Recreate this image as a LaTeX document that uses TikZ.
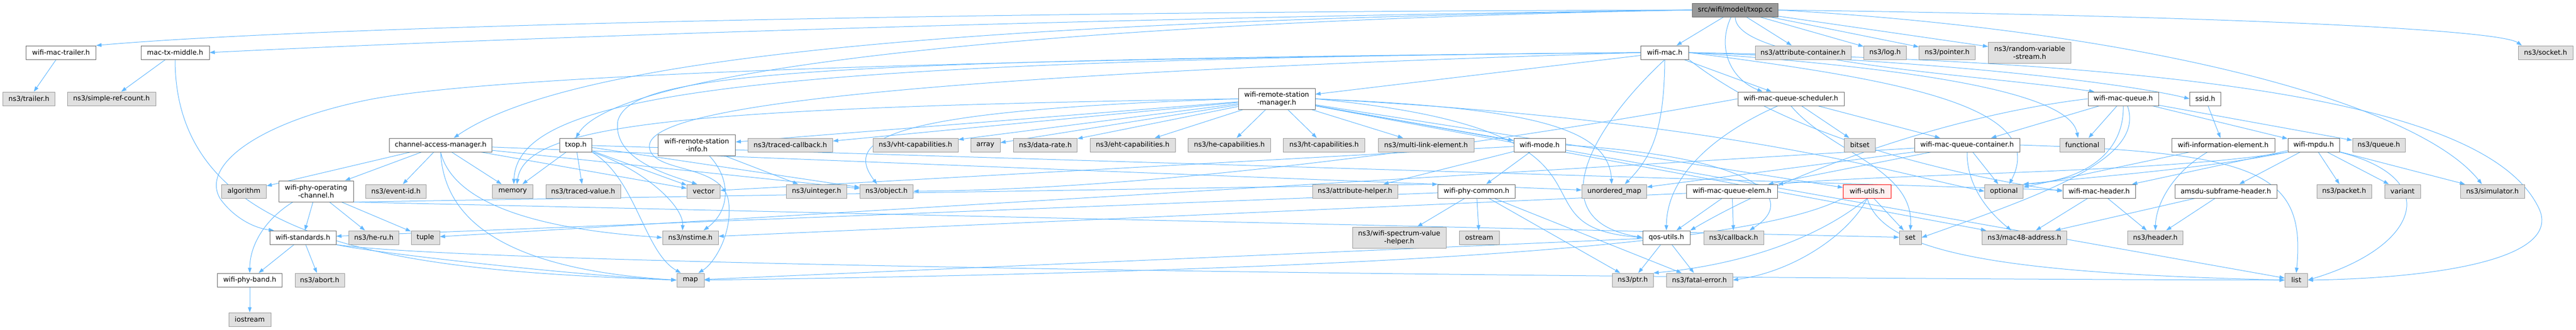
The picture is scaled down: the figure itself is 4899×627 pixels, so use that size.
\documentclass[tikz,border=0pt]{standalone}
\usepackage{fontspec}
\setmainfont{DejaVu Sans}
\usetikzlibrary{arrows.meta}
\definecolor{eb}{HTML}{63B8FF}
\definecolor{wbord}{HTML}{666666}
\definecolor{gbord}{HTML}{999999}
\definecolor{gfill}{HTML}{E0E0E0}
\definecolor{tfill}{HTML}{999999}
\definecolor{rfill}{HTML}{FFF0F0}
\pgfdeclarelayer{bg}
\pgfsetlayers{bg,main}
\begin{document}
\begin{tikzpicture}[x=1pt,y=-1pt,
  base/.style={rectangle, inner sep=0pt, minimum height=26pt, line width=1pt, font=\fontsize{13}{15}\selectfont, align=center},
  wn/.style={base, draw=wbord, fill=white},
  gn/.style={base, draw=gbord, fill=gfill},
  rn/.style={base, draw=red, fill=rfill},
  tn/.style={base, draw=wbord, fill=tfill},
  tall/.style={minimum height=40pt},
  bw/.style={minimum width=#1pt},
  dep/.style={draw=eb, line width=1pt, -{Triangle[length=10pt,width=7pt]}},
]
\useasboundingbox (0,0) rectangle (4899,627);
% row 0
\node[tn, bw=163] (cc) at (3300,19) {src/wifi/model/txop.cc};
% row 1
\node[wn, bw=133] (wmt) at (116,100) {wifi-mac-trailer.h};
\node[wn, bw=130] (mtm) at (333,100) {mac-tx-middle.h};
\node[wn, bw=91] (wmac) at (3166,100) {wifi-mac.h};
\node[gn, bw=182] (attrc) at (3429,100) {ns3/attribute-container.h};
\node[gn, bw=81] (log) at (3585,100) {ns3/log.h};
\node[gn, bw=107] (ptrn) at (3703,100) {ns3/pointer.h};
\node[gn, bw=157, tall] (rvs) at (3860,100) {ns3/random-variable\\-stream.h};
\node[gn, bw=104] (sock) at (4841,100) {ns3/socket.h};
% row 2
\node[gn, bw=99] (trl) at (55,188) {ns3/trailer.h};
\node[gn, bw=168] (src) at (212,188) {ns3/simple-ref-count.h};
\node[wn, bw=146, tall] (wrsm) at (2428,188) {wifi-remote-station\\-manager.h};
\node[wn, bw=202] (sched) at (3406,188) {wifi-mac-queue-scheduler.h};
\node[wn, bw=134] (wmq) at (4038,188) {wifi-mac-queue.h};
\node[wn, bw=59] (ssid) at (4194,188) {ssid.h};
% row 3
\node[wn, bw=195] (cam) at (838,276) {channel-access-manager.h};
\node[wn, bw=61] (txoph) at (1095,276) {txop.h};
\node[wn, bw=147, tall] (wrsi) at (1325,276) {wifi-remote-station\\-info.h};
\node[gn, bw=161] (tcb) at (1503,276) {ns3/traced-callback.h};
\node[gn, bw=162] (vht) at (1741,276) {ns3/vht-capabilities.h};
\node[gn, bw=56] (arr) at (1874,276) {array};
\node[gn, bw=121] (drate) at (1988,276) {ns3/data-rate.h};
\node[gn, bw=162] (eht) at (2154,276) {ns3/eht-capabilities.h};
\node[gn, bw=157] (he) at (2338,276) {ns3/he-capabilities.h};
\node[gn, bw=155] (ht) at (2518,276) {ns3/ht-capabilities.h};
\node[gn, bw=182] (mle) at (2712,276) {ns3/multi-link-element.h};
\node[wn, bw=98] (wmode) at (2928,276) {wifi-mode.h};
\node[gn, bw=59] (bitset) at (3537,276) {bitset};
\node[wn, bw=200] (cont) at (3741,276) {wifi-mac-queue-container.h};
\node[gn, bw=85] (func) at (3960,276) {functional};
\node[wn, bw=196] (wie) at (4228,276) {wifi-information-element.h};
\node[wn, bw=98] (mpdu) at (4400,276) {wifi-mpdu.h};
\node[gn, bw=100] (queue) at (4524,276) {ns3/queue.h};
% row 4
\node[gn, bw=85] (algo) at (464,364) {algorithm};
\node[wn, bw=142, tall] (wpoc) at (601,364) {wifi-phy-operating\\-channel.h};
\node[gn, bw=115] (evid) at (753,364) {ns3/event-id.h};
\node[gn, bw=77] (mem) at (975,364) {memory};
\node[gn, bw=142] (tval) at (1109,364) {ns3/traced-value.h};
\node[gn, bw=63] (vec) at (1338,364) {vector};
\node[gn, bw=115] (uint) at (1553,364) {ns3/uinteger.h};
\node[gn, bw=101] (obj) at (1686,364) {ns3/object.h};
\node[gn, bw=162] (ahelp) at (2577,364) {ns3/attribute-helper.h};
\node[wn, bw=147] (wpc) at (2808,364) {wifi-phy-common.h};
\node[gn, bw=123] (umap) at (3070,364) {unordered\_map};
\node[wn, bw=173] (elem) at (3294,364) {wifi-mac-queue-elem.h};
\node[rn, bw=91] (wutil) at (3551,364) {wifi-utils.h};
\node[gn, bw=73] (opt) at (3811,364) {optional};
\node[wn, bw=138] (wmh) at (3992,364) {wifi-mac-header.h};
\node[wn, bw=194] (amsdu) at (4233,364) {amsdu-subframe-header.h};
\node[gn, bw=104] (pkt) at (4458,364) {ns3/packet.h};
\node[gn, bw=68] (var) at (4569,364) {variant};
\node[gn, bw=122] (sim) at (4740,364) {ns3/simulator.h};
% row 5
\node[wn, bw=126] (wstd) at (576,452) {wifi-standards.h};
\node[gn, bw=95] (heru) at (711,452) {ns3/he-ru.h};
\node[gn, bw=54] (tuple) at (809,452) {tuple};
\node[gn, bw=106] (nst) at (1313,452) {ns3/nstime.h};
\node[gn, bw=178, tall] (wsvh) at (2661,452) {ns3/wifi-spectrum-value\\-helper.h};
\node[gn, bw=76] (ostr) at (2813,452) {ostream};
\node[wn, bw=90] (qos) at (3169,452) {qos-utils.h};
\node[gn, bw=114] (cb) at (3297,452) {ns3/callback.h};
\node[gn, bw=42] (set) at (3633,452) {set};
\node[gn, bw=161] (mac48) at (3850,452) {ns3/mac48-address.h};
\node[gn, bw=105] (hdr) at (4099,452) {ns3/header.h};
% row 6
\node[wn, bw=123] (wpb) at (475,533) {wifi-phy-band.h};
\node[gn, bw=94] (abort) at (608,533) {ns3/abort.h};
\node[gn, bw=52] (map) at (1313,533) {map};
\node[gn, bw=78] (ptr) at (3105,533) {ns3/ptr.h};
\node[gn, bw=126] (fe) at (3232,533) {ns3/fatal-error.h};
\node[gn, bw=43] (list) at (4367,533) {list};
% row 7
\node[gn, bw=80] (ios) at (475,608) {iostream};

\begin{pgfonlayer}{bg}
% txop.cc
\draw[dep] (cc.west) .. controls (1800,22) and (600,50) .. (wmt.north east);
\draw[dep] (cc.west) .. controls (2000,35) and (900,75) .. (mtm.east);
\draw[dep] (cc.west) .. controls (1900,40) and (1100,100) .. ([xshift=25pt]cam.north);
\draw[dep] (cc.west) .. controls (2100,40) and (1180,120) .. (txoph.north);
\draw[dep] (cc) -- (wmac);
\draw[dep] ([xshift=-8pt]cc.south) .. controls (3265,90) and (3290,150) .. ([xshift=-54pt]sched.north);
\draw[dep] (cc.south) .. controls (3300,120) and (3750,140) .. ([xshift=-55pt]wmq.north);
\draw[dep] (cc) -- (attrc);
\draw[dep] (cc) -- (log);
\draw[dep] (cc) -- (ptrn);
\draw[dep] (cc) -- (rvs);
\draw[dep] (cc.east) .. controls (4200,30) and (4750,55) .. ([xshift=-45pt]sock.north);
\draw[dep] (cc.east) .. controls (4100,60) and (4600,200) .. ([xshift=-20pt]sim.north);
% small
\draw[dep] (wmt) -- (trl);
\draw[dep] (mtm) -- (src);
\draw[dep] (mtm.south) .. controls (333,480) and (800,515) .. (map.west);
% channel-access-manager
\draw[dep] (cam) -- (algo);
\draw[dep] (cam) -- (wpoc);
\draw[dep] (cam) -- (evid);
\draw[dep] (cam) -- (mem);
\draw[dep] (cam) -- (vec);
\draw[dep] (cam) -- (obj);
\draw[dep] (cam) -- (umap);
\draw[dep] (cam.south) .. controls (860,380) and (1000,435) .. (nst.west);
\draw[dep] (cam.south) .. controls (845,440) and (1000,515) .. (map.west);
% txop.h
\draw[dep] (txoph) -- (mem);
\draw[dep] (txoph) -- (tval);
\draw[dep] (txoph) -- (vec);
\draw[dep] (txoph) -- (obj);
\draw[dep] (txoph) -- (wmh);
\draw[dep] (txoph.south east) .. controls (1220,320) and (1300,390) .. ([xshift=-15pt]nst.north);
\draw[dep] (txoph.south east) .. controls (1210,340) and (1225,480) .. ([xshift=-18pt]map.north);
% wifi-remote-station-info
\draw[dep] (wrsi) -- (uint);
\draw[dep] ([xshift=24pt]wrsi.south) .. controls (1390,340) and (1390,400) .. ([xshift=25pt]nst.north);
% wifi-remote-station-manager
\draw[dep] (wrsm) -- (vht);
\draw[dep] (wrsm) -- (arr);
\draw[dep] (wrsm) -- (drate);
\draw[dep] (wrsm) -- (eht);
\draw[dep] (wrsm) -- (he);
\draw[dep] (wrsm) -- (ht);
\draw[dep] (wrsm) -- (mle);
\draw[dep] (wrsm) -- (wmode);
\draw[dep] (wrsm) -- (tcb);
\draw[dep] (wrsm) -- (wrsi);
\draw[dep] (wrsm) -- (wutil);
\draw[dep] (wrsm) -- (mac48);
\draw[dep] (wrsm) -- (list);
\draw[dep] (wrsm.west) .. controls (1700,210) and (1600,260) .. ([xshift=-18pt]obj.north);
\draw[dep] (wrsm.west) .. controls (1300,205) and (1000,235) .. ([xshift=8pt]mem.north);
\draw[dep] (wrsm.east) .. controls (2900,205) and (3060,240) .. ([xshift=-5pt]umap.north);
\draw[dep] (wrsm.east) .. controls (3150,250) and (2850,430) .. (qos.west);
\draw[dep] (wrsm.east) .. controls (3300,230) and (3600,330) .. (opt.west);
% wifi-mac.h
\draw[dep] (wmac) -- (wrsm);
\draw[dep] (wmac) -- (sched);
\draw[dep] (wmac.south) .. controls (3020,250) and (2930,420) .. (qos.west);
\draw[dep] (wmac.south) .. controls (3165,250) and (3140,300) .. ([xshift=20pt]umap.north);
\draw[dep] (wmac.east) .. controls (3700,115) and (4050,160) .. (ssid.west);
\draw[dep] (wmac.east) .. controls (3800,140) and (3940,200) .. ([xshift=-8pt]func.north);
\draw[dep] (wmac.east) .. controls (3600,150) and (3900,200) .. ([xshift=10pt]opt.north);
\draw[dep] (wmac.south east) .. controls (3400,260) and (3700,330) .. (wmh.west);
\draw[dep] (wmac.east) .. controls (4300,120) and (4750,220) .. (4830,400) .. controls (4870,500) and (4600,530) .. (list.east);
\draw[dep] (wmac.west) .. controls (1600,115) and (900,150) .. (700,190) .. controls (480,235) and (380,320) .. (420,380) .. controls (450,420) and (490,435) .. ([xshift=-55pt]wstd.north);
\draw[dep] (wmac.west) .. controls (1400,115) and (985,180) .. ([xshift=2pt]mem.north);
\draw[dep] (wmac.west) .. controls (1500,115) and (1200,140) .. (1175,230) .. controls (1165,300) and (1260,330) .. ([xshift=-12pt]vec.north);
\draw[dep] (wmac.west) .. controls (1500,150) and (1230,220) .. (1235,280) .. controls (1240,330) and (1370,310) .. (1385,380) .. controls (1395,440) and (1360,500) .. ([xshift=15pt]map.north);
% wifi-mode
\draw[dep] (wmode) -- (ahelp);
\draw[dep] (wmode) -- (wpc);
\draw[dep] (wmode) -- (vec);
\draw[dep] (wmode.east) .. controls (3350,300) and (3420,380) .. ([xshift=30pt]cb.north);
% wifi-phy-common
\draw[dep] (wpc) -- (wstd);
\draw[dep] (wpc) -- (wsvh);
\draw[dep] (wpc) -- (ostr);
\draw[dep] (wpc) -- (ptr);
\draw[dep] (wpc) -- (fe);
% wifi-phy-operating-channel
\draw[dep] ([xshift=-44pt]wpoc.south) .. controls (500,420) and (475,470) .. (wpb.north);
\draw[dep] (wpoc) -- (wstd);
\draw[dep] (wpoc) -- (heru);
\draw[dep] (wpoc) -- (tuple);
\draw[dep] (wpoc.south east) -- (set);
\draw[dep] (wpoc.south east) -- (wpc.north west);
% wifi-standards
\draw[dep] (wstd) -- (wpb);
\draw[dep] (wstd) -- (abort);
\draw[dep] (wstd.south east) .. controls (700,480) and (1100,525) .. (map.west);
\draw[dep] (wstd.south east) .. controls (900,505) and (3000,530) .. (list.west);
\draw[dep] (wpb) -- (ios);
% qos-utils
\draw[dep] (qos) -- (ptr);
\draw[dep] (qos) -- (fe);
\draw[dep] (qos) -- (map);
% wifi-utils
\draw[dep] (wutil) -- (set);
\draw[dep] (wutil.south) .. controls (3520,440) and (3420,515) .. (fe.east);
\draw[dep] (wutil.south) .. controls (3580,480) and (3800,520) .. (list.west);
\draw[dep] (wutil.south) .. controls (3450,460) and (3300,505) .. (ptr.north east);
\draw[dep] (wutil.south west) .. controls (3380,440) and (3000,510) .. (map.east);
% wifi-mac-queue-elem
\draw[dep] (elem) -- (cb);
\draw[dep] (elem) -- (qos);
\draw[dep] (elem) -- (nst);
% scheduler
\draw[dep] (sched) -- (cont);
\draw[dep] (sched) -- (bitset);
\draw[dep] (sched.south) .. controls (3480,290) and (3640,320) .. (set.north);
\draw[dep] ([xshift=-25pt]sched.south) .. controls (3250,260) and (3170,340) .. (qos.north);
\draw[dep] (sched.west) .. controls (2800,280) and (2200,360) .. (obj.east);
% container
\draw[dep] (cont) -- (elem);
\draw[dep] (cont) -- (opt);
\draw[dep] (cont) -- (umap);
\draw[dep] (cont) -- (tuple);
\draw[dep] (cont.south) .. controls (3740,360) and (3790,410) .. ([xshift=-25pt]mac48.north);
\draw[dep] (cont.east) .. controls (4300,290) and (4385,330) .. (list.north);
% wifi-mac-queue
\draw[dep] (wmq) -- (cont);
\draw[dep] (wmq) -- (func);
\draw[dep] (wmq) -- (mpdu);
\draw[dep] (wmq) -- (queue);
\draw[dep] (wmq.south) .. controls (4040,300) and (3950,345) .. (opt.north east);
\draw[dep] (wmq.west) .. controls (3700,220) and (3400,330) .. (qos.north east);
\draw[dep] ([xshift=8pt]wmq.south) .. controls (4080,300) and (3900,365) .. (set.east);
% wifi-mpdu
\draw[dep] (mpdu) -- (amsdu);
\draw[dep] (mpdu) -- (pkt);
\draw[dep] (mpdu) -- (var);
\draw[dep] (mpdu) -- (sim);
\draw[dep] (mpdu) -- (wmh);
\draw[dep] (mpdu.south east) .. controls (4650,340) and (4600,470) .. (list.east);
\draw[dep] (mpdu.south west) .. controls (4200,320) and (4000,335) .. (opt.north east);
\draw[dep] (mpdu.south west) .. controls (4100,330) and (3600,330) .. (elem.north east);
% others
\draw[dep] (wmh) -- (hdr);
\draw[dep] (wmh) -- (mac48);
\draw[dep] (amsdu) -- (hdr);
\draw[dep] (amsdu) -- (mac48);
\draw[dep] (wie) -- (opt);
\draw[dep] ([xshift=-30pt]wie.south) .. controls (4130,330) and (4100,390) .. (hdr.north);
\draw[dep] (ssid) -- (wie);
\end{pgfonlayer}
\end{tikzpicture}
\end{document}
